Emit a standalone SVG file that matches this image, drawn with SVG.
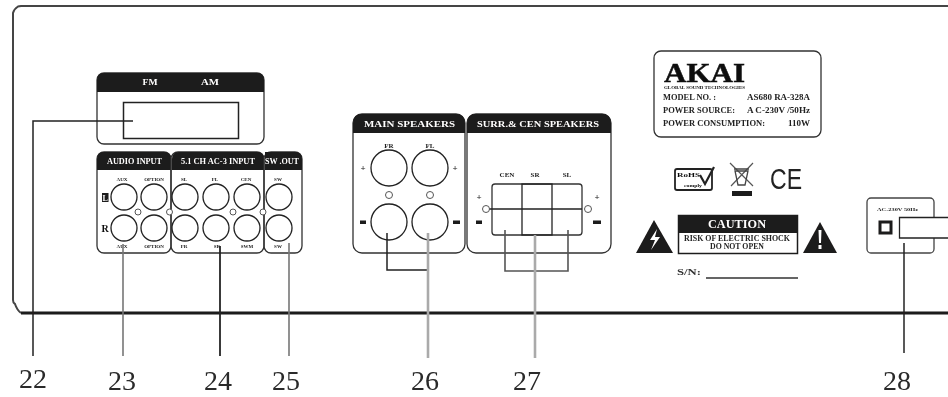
<svg xmlns="http://www.w3.org/2000/svg" width="948" height="397" viewBox="0 0 948 397">
<defs>
<filter id="soft" x="-5%" y="-5%" width="110%" height="110%"><feGaussianBlur stdDeviation="0.45"/></filter>
</defs>
<style>
text{font-family:"Liberation Serif","Times New Roman",serif;fill:#111}
.num{font-size:28px;fill:#2a2a2a}
.h{font-weight:bold;font-size:8px;fill:#fff;text-anchor:middle}
.l{font-weight:bold;font-size:5px;text-anchor:middle;fill:#222}
.s{font-weight:bold;font-size:7.500px;fill:#222}
.pan{fill:none;stroke:#333;stroke-width:1.3}
.blk{fill:#1c1a1a}
.jack{fill:#fff;stroke:#222;stroke-width:1.3}
.dot{fill:#fff;stroke:#555;stroke-width:1}
.lead{fill:none;stroke:#222;stroke-width:1.5}
.gray{fill:none;stroke:#aaa;stroke-width:2.6}
.mid{fill:none;stroke:#777;stroke-width:1.6}
</style>
<rect width="948" height="397" fill="#fff"/>
<g filter="url(#soft)">
<g id="chassis">
<path d="M948,6H21L18,6.500Q14,9 13,13V300Q13,303 15,304Q17,310 21,313" fill="none" stroke="#444" stroke-width="2"/>
<path d="M21,313H948" fill="none" stroke="#1c1a1a" stroke-width="3.200"/>
</g>
<g id="tuner-panel">
<rect class="pan" x="97" y="73" width="167" height="71" rx="7"/>
<path class="blk" d="M97,92V80Q97,73 104,73H257Q264,73 264,80V92Z"/>
<text class="h" x="150" y="85" textLength="15" lengthAdjust="spacingAndGlyphs">FM</text>
<text class="h" x="210" y="85" textLength="18" lengthAdjust="spacingAndGlyphs">AM</text>
<rect x="123.500" y="102.500" width="115" height="36" fill="#fff" stroke="#222" stroke-width="1.500"/>
</g>
<g id="audio-input">
<rect class="pan" x="97" y="152" width="74" height="101" rx="7"/>
<path class="blk" d="M97,170V159Q97,152 104,152H164Q171,152 171,159V170Z"/>
<text class="h" x="134.500" y="164" textLength="55" lengthAdjust="spacingAndGlyphs">AUDIO INPUT</text>
<text class="l" x="122" y="181">AUX</text><text class="l" x="154" y="181">OPTION</text>
<text class="l" x="122" y="248">AUX</text><text class="l" x="154" y="248">OPTION</text>
<circle class="jack" cx="124" cy="197" r="13"/><circle class="jack" cx="154" cy="197" r="13"/>
<circle class="jack" cx="124" cy="228" r="13"/><circle class="jack" cx="154" cy="228" r="13"/>
<circle class="dot" cx="138" cy="212" r="3"/>
<rect class="blk" x="102" y="193" width="6.500" height="9"/>
<text x="105.200" y="200.500" style="font-weight:bold;font-size:8px;fill:#fff;text-anchor:middle">L</text>
<text x="105" y="232" style="font-weight:bold;font-size:10px;text-anchor:middle">R</text>
</g>
<g id="ac3-input">
<rect class="pan" x="171" y="152" width="93" height="101" rx="7"/>
<path class="blk" d="M172,170V159Q172,152 179,152H257Q264,152 264,159V170Z"/>
<text class="h" x="218" y="164" textLength="74" lengthAdjust="spacingAndGlyphs">5.1 CH AC-3 INPUT</text>
<text class="l" x="184" y="181">SL</text><text class="l" x="215" y="181">FL</text><text class="l" x="246" y="181">CEN</text>
<text class="l" x="184" y="248">FR</text><text class="l" x="217" y="248">SR</text><text class="l" x="247" y="248">SWM</text>
<circle class="jack" cx="185" cy="197" r="13"/><circle class="jack" cx="216" cy="197" r="13"/><circle class="jack" cx="247" cy="197" r="13"/>
<circle class="jack" cx="185" cy="228" r="13"/><circle class="jack" cx="216" cy="228" r="13"/><circle class="jack" cx="247" cy="228" r="13"/>
<circle class="dot" cx="169.500" cy="212" r="3"/><circle class="dot" cx="233" cy="212" r="3"/>
</g>
<g id="sw-out">
<rect class="pan" x="264" y="152" width="38" height="101" rx="7"/>
<path class="blk" d="M265,170V152H295Q302,152 302,159V170Z"/>
<text class="h" x="282" y="164" textLength="34" lengthAdjust="spacingAndGlyphs">SW .OUT</text>
<text class="l" x="278" y="181">SW</text><text class="l" x="278" y="248">SW</text>
<circle class="jack" cx="279" cy="197" r="13"/><circle class="jack" cx="279" cy="228" r="13"/>
<circle class="dot" cx="263" cy="212" r="3"/>
</g>
<g id="main-speakers">
<rect class="pan" x="353" y="114" width="112" height="139" rx="9" stroke="#555"/>
<path class="blk" d="M353,133V123Q353,114 362,114H456Q465,114 465,123V133Z"/>
<text class="h" x="409.500" y="127" textLength="91" lengthAdjust="spacingAndGlyphs">MAIN SPEAKERS</text>
<text class="l" x="389" y="148" style="font-size:7px">FR</text><text class="l" x="430" y="148" style="font-size:7px">FL</text>
<text class="l" x="363" y="171" style="font-size:9px">+</text><text class="l" x="455" y="171" style="font-size:9px">+</text>
<circle class="jack" cx="389" cy="168" r="18"/><circle class="jack" cx="430" cy="168" r="18"/>
<circle class="jack" cx="389" cy="222" r="18"/><circle class="jack" cx="430" cy="222" r="18"/>
<circle class="dot" cx="389" cy="195" r="3.500"/><circle class="dot" cx="430" cy="195" r="3.500"/>
<rect class="blk" x="360" y="220.500" width="6" height="3.500"/><rect class="blk" x="453" y="220.500" width="7" height="3.500"/>
</g>
<g id="surround-speakers">
<rect class="pan" x="467" y="114" width="144" height="139" rx="9" stroke="#555"/>
<path class="blk" d="M467,133V123Q467,114 476,114H602Q611,114 611,123V133Z"/>
<text class="h" x="538" y="127" textLength="122" lengthAdjust="spacingAndGlyphs">SURR.&amp; CEN SPEAKERS</text>
<text class="l" x="507" y="177" style="font-size:7px">CEN</text><text class="l" x="535" y="177" style="font-size:7px">SR</text><text class="l" x="567" y="177" style="font-size:7px">SL</text>
<text class="l" x="479" y="200" style="font-size:9px">+</text><text class="l" x="597" y="200" style="font-size:9px">+</text>
<rect x="492" y="184" width="90" height="51" rx="3" fill="#fff" stroke="#333" stroke-width="1.300"/>
<rect x="522" y="184" width="30" height="51" fill="none" stroke="#222" stroke-width="1.300"/>
<path d="M489,209H582" stroke="#222" stroke-width="1.300" fill="none"/>
<circle class="dot" cx="486" cy="209" r="3.500"/><circle class="dot" cx="588" cy="209" r="3.500"/>
<rect class="blk" x="476" y="220.500" width="6" height="3.500"/><rect class="blk" x="593" y="220.500" width="8" height="3.500"/>
</g>
<g id="rating-label">
<rect x="654" y="51" width="167" height="86" rx="7" fill="#fff" stroke="#333" stroke-width="1.300"/>
<text x="664" y="82" textLength="81" lengthAdjust="spacingAndGlyphs" stroke="#111" stroke-width="0.500" style="font-weight:bold;font-size:28px">AKAI</text>
<text x="664" y="88.500" textLength="81" lengthAdjust="spacingAndGlyphs" style="font-weight:bold;font-size:4.500px">GLOBAL SOUND TECHNOLOGIES</text>
<text class="s" x="663" y="100" textLength="53" lengthAdjust="spacingAndGlyphs">MODEL NO. :</text>
<text class="s" x="747" y="100" textLength="63" lengthAdjust="spacingAndGlyphs">AS680 RA-328A</text>
<text class="s" x="663" y="113" textLength="72" lengthAdjust="spacingAndGlyphs">POWER SOURCE:</text>
<text class="s" x="747" y="113" textLength="63" lengthAdjust="spacingAndGlyphs">A C-230V /50Hz</text>
<text class="s" x="663" y="126" textLength="102" lengthAdjust="spacingAndGlyphs">POWER CONSUMPTION:</text>
<text class="s" x="788" y="126" textLength="22" lengthAdjust="spacingAndGlyphs">110W</text>
</g>
<g id="rohs-mark">
<rect x="675" y="169" width="37" height="21" rx="2" fill="#fff" stroke="#222" stroke-width="1.800"/>
<text x="677" y="177" textLength="23" lengthAdjust="spacingAndGlyphs" style="font-weight:bold;font-size:7px">RoHS</text>
<text x="684" y="187" textLength="18" lengthAdjust="spacingAndGlyphs" style="font-weight:bold;font-size:5px">comply</text>
<path d="M700,175L705,184L714,167" fill="none" stroke="#222" stroke-width="2.200"/>
</g>
<g id="weee-mark">
<path d="M730,163L753,186M753,163L731,186" stroke="#555" stroke-width="1.200" fill="none"/>
<path d="M735,171H748L745,185H738ZM734,169H749" fill="none" stroke="#444" stroke-width="1.300"/>
<rect class="blk" x="732" y="191" width="20" height="5"/>
</g>
<g id="ce-mark">
<text x="770" y="189" textLength="32" lengthAdjust="spacingAndGlyphs" style="font-family:'Liberation Sans',Arial,sans-serif;font-size:30px;fill:#222">CE</text>
</g>
<g id="caution">
<path class="blk" d="M654,220L673,253H636Z"/>
<path d="M657,229L650,240H655L651,250L660,237H655Z" fill="#fff"/>
<rect x="678.500" y="215.500" width="119" height="38" fill="#fff" stroke="#1c1a1a" stroke-width="1.500"/>
<rect class="blk" x="678" y="215" width="120" height="18"/>
<text x="737" y="228" text-anchor="middle" textLength="58" lengthAdjust="spacingAndGlyphs" style="font-weight:bold;font-size:12px;fill:#fff">CAUTION</text>
<text class="s" x="737" y="241" text-anchor="middle" textLength="106" lengthAdjust="spacingAndGlyphs">RISK OF ELECTRIC SHOCK</text>
<text class="s" x="737" y="249" text-anchor="middle" textLength="54" lengthAdjust="spacingAndGlyphs">DO NOT OPEN</text>
<path class="blk" d="M820,222L837,253H803Z"/>
<path d="M818.500,230H821.500L821,243H819ZM818.500,245H821.500V249H818.500Z" fill="#fff"/>
</g>
<g id="serial">
<text x="677" y="275" textLength="24" lengthAdjust="spacingAndGlyphs" style="font-weight:bold;font-size:9px;fill:#333">S/N:</text>
<path d="M706,278H798" stroke="#333" stroke-width="1.300" fill="none"/>
</g>
<g id="power-input">
<rect x="867" y="198" width="67" height="55" rx="4" fill="#fff" stroke="#444" stroke-width="1.300"/>
<text class="l" x="877" y="211" style="text-anchor:start" textLength="41" lengthAdjust="spacingAndGlyphs">AC-230V 50Hz</text>
<rect x="880" y="222" width="11" height="11" fill="#fff" stroke="#1c1a1a" stroke-width="3"/>
<path d="M948,217.500H899.500V238H948" fill="#fff" stroke="#222" stroke-width="1.300"/>
</g>
<g id="connectors">
<path class="lead" d="M133,121H33V356"/>
<path class="mid" d="M123,244V356"/>
<path class="lead" d="M220,246V356" style="stroke-width:1.800"/>
<path class="mid" d="M289,243V356"/>
<path class="lead" d="M387,233V270H428"/>
<path class="gray" d="M428,233V358"/>
<path class="mid" d="M505,230V271H568V230" style="stroke:#555"/>
<path class="gray" d="M535,235V358"/>
<path class="lead" d="M904,243V353"/>
</g>
<g id="callouts">
<text class="num" x="19" y="388">22</text>
<text class="num" x="108" y="390">23</text>
<text class="num" x="204" y="390">24</text>
<text class="num" x="272" y="390">25</text>
<text class="num" x="411" y="390">26</text>
<text class="num" x="513" y="390">27</text>
<text class="num" x="883" y="390">28</text>
</g>
</g>
</svg>
